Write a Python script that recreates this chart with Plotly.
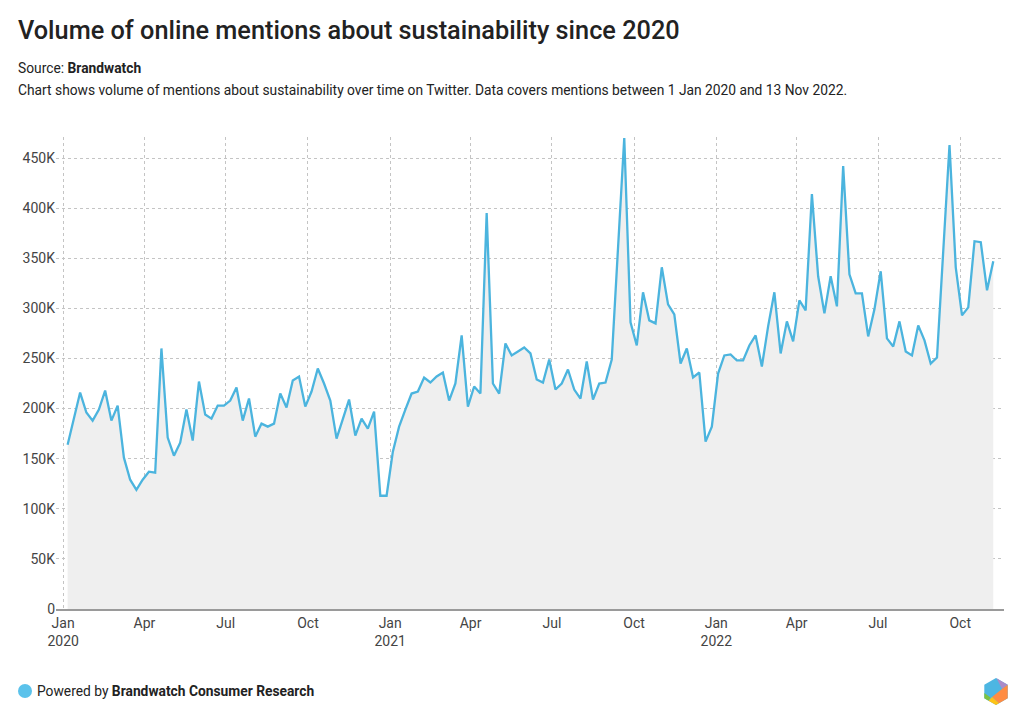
import pandas as pd
import plotly.graph_objects as go

# ---- data ----
start_week = "2020-01-06"
mentions_k = [
    164, 191, 216, 196, 188, 199, 218, 188, 203, 151,
    129, 119, 129, 137, 136, 260, 171, 153, 166, 199,
    168, 227, 194, 190, 203, 203, 208, 221, 188, 210,
    172, 185, 182, 185, 215, 201, 228, 232, 202, 217,
    240, 225, 208, 170, 189, 209, 173, 190, 180, 197,
    113, 113, 157, 182, 199, 215, 217, 231, 226, 232,
    236, 208, 225, 273, 202, 222, 215, 395, 225, 215,
    265, 253, 257, 261, 255, 229, 226, 249, 219, 225,
    239, 219, 210, 247, 209, 225, 226, 249, 360, 470,
    286, 263, 316, 288, 285, 341, 304, 294, 245, 260,
    231, 236, 167, 182, 235, 253, 254, 248, 248, 263,
    273, 242, 282, 316, 255, 287, 267, 308, 298, 414,
    332, 295, 332, 302, 442, 334, 315, 315, 272, 299,
    337, 270, 262, 287, 257, 253, 283, 268, 245, 251,
    357, 463, 341, 293, 301, 367, 366, 318, 347,
]
values = [v * 1000 for v in mentions_k]
dates = pd.date_range(start_week, periods=len(values), freq="7D")

x_tick_vals = ["2020-01-01", "2020-04-01", "2020-07-01", "2020-10-01",
               "2021-01-01", "2021-04-01", "2021-07-01", "2021-10-01",
               "2022-01-01", "2022-04-01", "2022-07-01", "2022-10-01"]
x_tick_text = ["Jan<br>2020", "Apr", "Jul", "Oct",
               "Jan<br>2021", "Apr", "Jul", "Oct",
               "Jan<br>2022", "Apr", "Jul", "Oct"]
y_tick_vals = [0, 50000, 100000, 150000, 200000, 250000, 300000, 350000, 400000, 450000]
y_tick_text = ["0", "50K", "100K", "150K", "200K", "250K", "300K", "350K", "400K", "450K"]

title = "Volume of online mentions about sustainability since 2020"
source = "Source: <b>Brandwatch</b>"
subtitle = ("Chart shows volume of mentions about sustainability over time on Twitter. "
            "Data covers mentions between 1 Jan 2020 and 13 Nov 2022.")
footer = "Powered by <b>Brandwatch Consumer Research</b>"

# ---- layout geometry (window pixels; page body adds an 8px offset) ----
OFF = 8
WIDTH, HEIGHT = 1024 - OFF, 725 - OFF
L, R, T, B = 56 - OFF, 1004 - OFF, 137 - OFF, 609 - OFF
PW, PH = R - L, B - T


def px_x(px):
    return (px - OFF - L) / PW


def px_y(py):
    return (B - (py - OFF)) / PH


FONT = "Roboto, 'Noto Sans', Arial, sans-serif"

fig = go.Figure()
fig.add_trace(go.Scatter(
    x=dates, y=values, mode="lines",
    line=dict(color="#4BB4DE", width=2.3),
    fill="tozeroy", fillcolor="#efefef",
    hoverinfo="skip", showlegend=False,
))

fig.update_layout(
    width=WIDTH, height=HEIGHT,
    margin=dict(l=L, r=WIDTH - R, t=T, b=HEIGHT - B, pad=0),
    paper_bgcolor="white", plot_bgcolor="white",
    font=dict(family=FONT, size=14, color="#333333"),
    showlegend=False,
    xaxis=dict(
        type="date", range=["2019-12-24", "2022-11-19"],
        tickvals=x_tick_vals, ticktext=x_tick_text,
        showgrid=True, gridcolor="#c4c4c4", griddash="dot", gridwidth=1,
        showline=True, linecolor="#9a9a9a", linewidth=2,
        ticks="", tickfont=dict(size=14, color="#444444"),
        zeroline=False, fixedrange=True,
    ),
    yaxis=dict(
        range=[0, 471000],
        tickvals=y_tick_vals, ticktext=y_tick_text,
        showgrid=True, gridcolor="#c4c4c4", griddash="dot", gridwidth=1,
        zeroline=False, showline=False, ticks="",
        tickfont=dict(size=14, color="#444444"), fixedrange=True,
    ),
)

ann = [
    dict(text=title, x=px_x(16), y=px_y(31), font=dict(size=25.3, color="#222222", weight=500)),
    dict(text=source, x=px_x(16), y=px_y(68), font=dict(size=13.8, color="#222222")),
    dict(text=subtitle, x=px_x(16), y=px_y(90), font=dict(size=13.8, color="#222222")),
    dict(text=footer, x=px_x(35), y=px_y(691), font=dict(size=13.8, color="#222222")),
]
for a in ann:
    fig.add_annotation(xref="paper", yref="paper", xanchor="left", yanchor="middle",
                       showarrow=False, align="left", **a)

# footer dot
fig.add_shape(type="circle", xref="paper", yref="paper",
              x0=px_x(18), x1=px_x(32), y0=px_y(698), y1=px_y(684),
              fillcolor="#5BC2EB", line=dict(width=0), layer="above")


def poly(points, color):
    path = "M " + " L ".join(f"{px_x(x):.5f},{px_y(y):.5f}" for x, y in points) + " Z"
    fig.add_shape(type="path", xref="paper", yref="paper", path=path,
                  fillcolor=color, line=dict(width=0), layer="above")


# logo (hexagon)
poly([(996, 678), (1007.7, 684.75), (1007.7, 698.25), (996, 705), (984.3, 698.25), (984.3, 684.75)], "#4DB6E2")
poly([(996.5, 678.3), (1007.7, 684.75), (1002, 689)], "#A98BC9")
poly([(1002, 689), (1007.7, 684.75), (1007.7, 698.25), (999, 703.3), (992, 697)], "#FF8C42")
poly([(992, 697), (999, 703.3), (996, 705), (988.5, 700.7)], "#FFC316")
poly([(984.3, 693), (990.5, 697.5), (988.5, 700.7), (984.3, 698.25)], "#7DC242")

fig.write_html("out.html", config={"displayModeBar": False})
